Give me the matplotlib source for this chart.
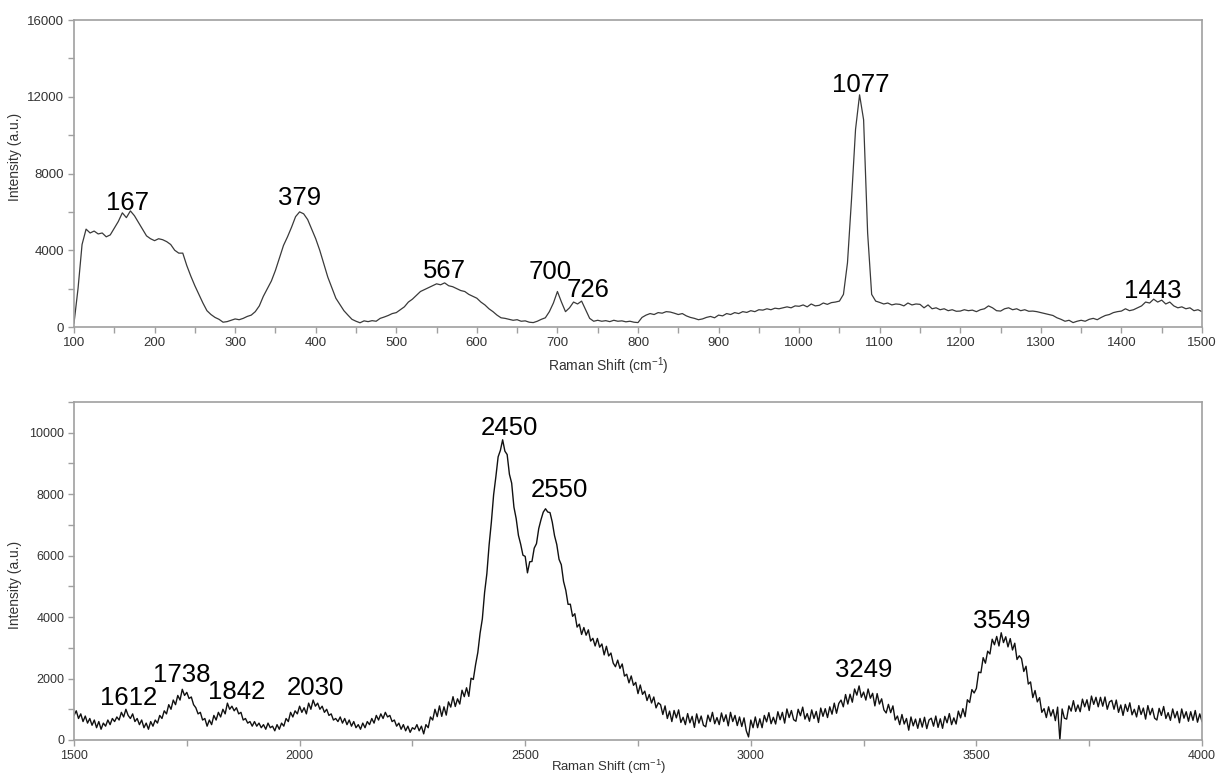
import numpy as np
import matplotlib
matplotlib.use("Agg")
import matplotlib.pyplot as plt
from matplotlib.ticker import MultipleLocator

plt.rcParams['font.family'] = ['Liberation Sans', 'DejaVu Sans']
plt.rcParams['mathtext.default'] = 'regular'

# ---------------- data: top panel (100-1500 cm-1, step 5) ----------------
top_shift = np.arange(100, 1501, 5)
top_intensity = [
    200, 2000, 4300, 5100, 4900, 5000, 4850, 4900, 4700, 4800, 5150, 5500, 5950, 5700, 6050, 5800, 5450, 5100, 4750, 4600,
    4500, 4600, 4550, 4450, 4300, 4000, 3850, 3850, 3200, 2650, 2150, 1700, 1250, 850, 650, 500, 400, 250, 280, 350,
    420, 380, 450, 550, 620, 800, 1100, 1600, 2000, 2400, 2950, 3600, 4250, 4700, 5200, 5750, 6000, 5900, 5600, 5100,
    4600, 4000, 3300, 2600, 2050, 1500, 1180, 850, 620, 400, 300, 220, 320, 280, 330, 300, 450, 520, 600, 700,
    750, 900, 1050, 1300, 1450, 1650, 1850, 1950, 2050, 2150, 2250, 2200, 2300, 2150, 2100, 2000, 1900, 1850, 1700, 1600,
    1500, 1300, 1150, 950, 800, 620, 480, 450, 400, 350, 380, 300, 320, 250, 230, 300, 400, 480, 800, 1250,
    1850, 1300, 800, 1000, 1300, 1200, 1350, 900, 450, 300, 350, 300, 330, 280, 350, 300, 320, 270, 300, 250,
    230, 500, 620, 700, 650, 750, 720, 800, 780, 720, 650, 700, 580, 500, 450, 380, 420, 500, 550, 480,
    620, 580, 700, 650, 750, 700, 800, 760, 850, 800, 900, 880, 950, 900, 980, 950, 1000, 1050, 1000, 1100,
    1080, 1150, 1050, 1200, 1100, 1130, 1250, 1180, 1270, 1300, 1350, 1700, 3350, 6650, 10300, 12100, 10800, 4900, 1700, 1350,
    1280, 1200, 1250, 1150, 1200, 1180, 1100, 1250, 1150, 1200, 1180, 1000, 1150, 950, 1000, 900, 950, 850, 900, 820,
    830, 900, 850, 880, 800, 900, 950, 1100, 1000, 850, 830, 950, 1000, 900, 950, 850, 900, 820, 830, 800,
    750, 700, 650, 600, 480, 400, 300, 350, 230, 300, 350, 300, 400, 450, 380, 500, 600, 650, 750, 800,
    830, 950, 850, 900, 1000, 1100, 1300, 1250, 1450, 1300, 1400, 1200, 1300, 1100, 1000, 1050, 950, 1000, 850, 900, 800,
]

# ---------------- data: bottom panel (1500-4000 cm-1, step 5) ----------------
bot_shift = np.arange(1500, 4001, 5)
bot_intensity = [
    800, 950, 700, 850, 600, 780, 550, 700, 480, 650, 400, 600, 350, 550, 450, 650, 500, 700, 600, 750,
    650, 900, 750, 1000, 800, 700, 850, 600, 700, 500, 650, 400, 550, 350, 600, 450, 650, 550, 800, 700,
    950, 850, 1150, 1000, 1300, 1150, 1450, 1300, 1650, 1450, 1550, 1350, 1400, 1150, 1050, 850, 900, 650, 700, 450,
    650, 500, 800, 650, 900, 750, 1000, 850, 1200, 1000, 1100, 950, 1050, 850, 900, 650, 700, 550, 600, 450,
    600, 450, 550, 400, 500, 350, 550, 400, 450, 300, 500, 350, 550, 450, 700, 600, 900, 750, 950, 850,
    1100, 900, 1050, 850, 1200, 1000, 1300, 1100, 1200, 1000, 1100, 900, 1000, 800, 850, 650, 700, 600, 750, 550,
    700, 500, 650, 450, 600, 400, 500, 350, 550, 400, 600, 500, 700, 550, 800, 650, 850, 700, 900, 750,
    800, 600, 650, 450, 550, 350, 500, 300, 450, 250, 400, 350, 500, 300, 450, 200, 500, 400, 750, 650,
    1000, 760, 1110, 770, 1080, 810, 1240, 1070, 1410, 1090, 1340, 1170, 1620, 1410, 1700, 1420, 2010, 1970, 2450, 2850,
    3475, 3940, 4800, 5410, 6345, 7090, 7980, 8570, 9215, 9425, 9770, 9400, 9290, 8650, 8360, 7580, 7205, 6660, 6370, 6015,
    5975, 5440, 5800, 5810, 6245, 6390, 6880, 7170, 7415, 7525, 7420, 7400, 7090, 6650, 6360, 5880, 5705, 5160, 4870, 4415,
    4420, 4025, 4110, 3675, 3770, 3435, 3660, 3410, 3585, 3220, 3310, 3060, 3305, 3020, 3125, 2770, 3050, 2735, 2830, 2505,
    2385, 2600, 2330, 2475, 2080, 2140, 1860, 2085, 1780, 1875, 1510, 1790, 1485, 1590, 1285, 1480, 1205, 1400, 1045, 1210,
    1150, 830, 1110, 700, 940, 600, 960, 720, 980, 570, 740, 500, 860, 560, 770, 410, 850, 550, 780, 480,
    430, 810, 600, 900, 530, 730, 500, 880, 600, 820, 460, 900, 600, 800, 470, 750, 440, 720, 300, 100,
    650, 400, 750, 400, 690, 400, 800, 590, 890, 530, 740, 520, 920, 660, 900, 550, 1010, 730, 960, 660,
    610, 1000, 790, 1070, 680, 860, 610, 980, 700, 930, 570, 1040, 770, 1020, 730, 1080, 840, 1200, 870, 1190,
    1300, 1080, 1480, 1170, 1490, 1230, 1660, 1460, 1760, 1390, 1560, 1300, 1660, 1360, 1520, 1110, 1510, 1170, 1340, 980,
    880, 1160, 890, 1110, 650, 780, 500, 830, 520, 700, 320, 750, 460, 680, 380, 700, 420, 740, 370, 650,
    710, 450, 780, 410, 690, 380, 770, 560, 860, 500, 720, 520, 940, 720, 1020, 760, 1310, 1220, 1640, 1530,
    1680, 2210, 2190, 2680, 2500, 2890, 2800, 3280, 3100, 3370, 3060, 3490, 3170, 3360, 3030, 3300, 2930, 3150, 2620, 2740,
    2650, 2230, 2400, 1820, 1890, 1380, 1610, 1240, 1380, 900, 1020, 730, 1080, 780, 990, 630, 1070, 0, 1010, 710,
    680, 1110, 940, 1280, 930, 1140, 920, 1330, 1080, 1310, 960, 1430, 1160, 1390, 1080, 1390, 1100, 1400, 1000, 1240,
    1290, 1000, 1300, 900, 1140, 800, 1160, 930, 1210, 820, 1000, 750, 1120, 830, 1040, 680, 1120, 820, 1030, 710,
    650, 1030, 800, 1090, 700, 890, 640, 1010, 720, 930, 560, 1010, 710, 920, 610, 920, 640, 960, 580, 850, 600,
]

# peak labels: text, x position, y of text baseline
top_labels = ["167", "379", "567", "700", "726", "1077", "1443"]
top_label_x = [167, 380, 560, 691, 738, 1077, 1439]
top_label_y = [6100, 6350, 2570, 2500, 1580, 12250, 1530]

bot_labels = ["1612", "1738", "1842", "2030", "2450", "2550", "3249", "3549"]
bot_label_x = [1620, 1739, 1860, 2034, 2465, 2576, 3251, 3557]
bot_label_y = [1140, 1900, 1320, 1460, 9920, 7920, 2060, 3630]

top_yticks = [0, 4000, 8000, 12000, 16000]
bot_yticks = [0, 2000, 4000, 6000, 8000, 10000]

# ---------------- figure ----------------
fig = plt.figure(figsize=(12.18, 7.76), dpi=100)
ax1 = fig.add_axes([74/1218, 1-327/776, 1128/1218, 307/776])
ax2 = fig.add_axes([74/1218, 1-740/776, 1128/1218, 338/776])

spine_col = '#a0a0a0'
tick_col = '#333333'

def style(ax, lsize):
    for s in ax.spines.values():
        s.set_color(spine_col)
        s.set_linewidth(1.2)
    ax.tick_params(which='both', direction='out', color=spine_col, width=1.0,
                   labelsize=lsize, labelcolor=tick_col, top=False, right=False, pad=3)
    ax.tick_params(which='major', length=4)
    ax.tick_params(which='minor', length=4)

ax1.plot(top_shift[:len(top_intensity)], top_intensity, color='#3a3a3a', lw=0.9)
ax1.set_xlim(100, 1500)
ax1.set_ylim(0, 16000)
ax1.set_yticks(top_yticks)
ax1.yaxis.set_minor_locator(MultipleLocator(2000))
ax1.xaxis.set_major_locator(MultipleLocator(100))
ax1.xaxis.set_minor_locator(MultipleLocator(50))
style(ax1, 9.5)
ax1.set_ylabel("Intensity (a.u.)", fontsize=10, color=tick_col)
ax1.set_xlabel("Raman Shift (cm$^{-1}$)", fontsize=10, color=tick_col)
ax1.yaxis.set_label_coords(-0.046, 0.554)
ax1.xaxis.set_label_coords(0.474, -0.093)
for t, x, y in zip(top_labels, top_label_x, top_label_y):
    ax1.text(x, y, t, ha='center', va='baseline', fontsize=18.5, color='black')

ax2.plot(bot_shift[:len(bot_intensity)], bot_intensity, color='#111111', lw=1.0)
ax2.set_xlim(1500, 4000)
ax2.set_ylim(0, 11000)
ax2.set_yticks(bot_yticks)
ax2.yaxis.set_minor_locator(MultipleLocator(1000))
ax2.xaxis.set_major_locator(MultipleLocator(500))
ax2.xaxis.set_minor_locator(MultipleLocator(250))
style(ax2, 9)
ax2.set_ylabel("Intensity (a.u.)", fontsize=10, color=tick_col)
ax2.set_xlabel("Raman Shift (cm$^{-1}$)", fontsize=9.5, color=tick_col)
ax2.yaxis.set_label_coords(-0.046, 0.459)
ax2.xaxis.set_label_coords(0.474, -0.052)
for t, x, y in zip(bot_labels, bot_label_x, bot_label_y):
    ax2.text(x, y, t, ha='center', va='baseline', fontsize=18.5, color='black')

fig.savefig("out.png", dpi=100)
